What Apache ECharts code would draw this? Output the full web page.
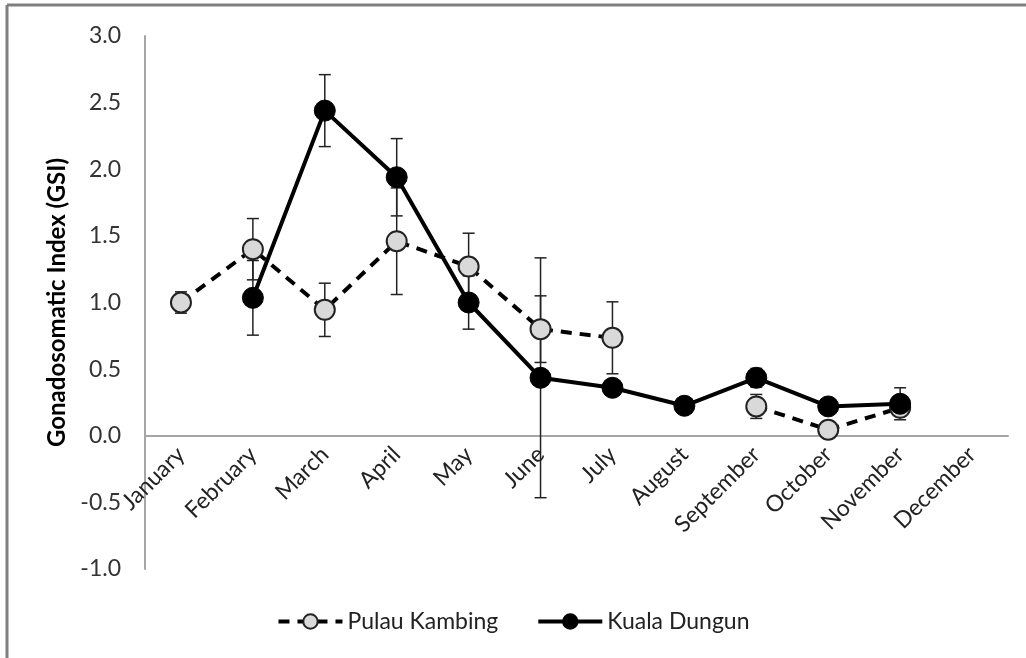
<!DOCTYPE html>
<html>
<head>
<meta charset="utf-8">
<script src="https://cdn.jsdelivr.net/npm/echarts@6/dist/echarts.min.js"></script>
<style>
html,body{margin:0;padding:0;background:#fff;}
#chart{width:1026px;height:658px;}
</style>
</head>
<body>
<div id="chart"></div>
<script>
const months = ['January','February','March','April','May','June','July','August','September','October','November','December'];
const pulauKambing = [1.00, 1.40, 0.945, 1.46, 1.27, 0.80, 0.735, null, 0.22, 0.045, 0.21, null];
const pulauKambingErr = [0.08, 0.23, 0.20, 0.40, 0.25, 0.25, 0.27, null, 0.09, null, null, null];
const kualaDungun = [null, 1.035, 2.44, 1.94, 1.00, 0.435, 0.36, 0.225, 0.435, 0.22, 0.24, null];
const kualaDungunErr = [null, 0.28, 0.27, 0.29, 0.20, 0.90, null, null, 0.07, null, 0.12, null];
const yTicks = {min: -1, max: 3, step: 0.5};

function errData(vals, errs) {
  const out = [];
  vals.forEach((v, i) => {
    if (v != null && errs[i] != null) out.push([i, v - errs[i], v + errs[i]]);
  });
  return out;
}
function errRender(params, api) {
  const x = api.value(0);
  const lo = api.coord([x, api.value(1)]);
  const hi = api.coord([x, api.value(2)]);
  const w = 6;
  const st = {stroke: '#222', lineWidth: 1.5};
  return {type: 'group', children: [
    {type: 'line', shape: {x1: lo[0], y1: lo[1], x2: hi[0], y2: hi[1]}, style: st},
    {type: 'line', shape: {x1: lo[0]-w, y1: lo[1], x2: lo[0]+w, y2: lo[1]}, style: st},
    {type: 'line', shape: {x1: hi[0]-w, y1: hi[1], x2: hi[0]+w, y2: hi[1]}, style: st}
  ]};
}

const GRID_TOP = 36, GRID_BOTTOM = 89, H = 658;
const gridH = H - GRID_TOP - GRID_BOTTOM;
const zeroOffset = gridH * (0 - yTicks.min) / (yTicks.max - yTicks.min);

const chart = echarts.init(document.getElementById('chart'));
const FONT = 'Lato';
chart.setOption({
  backgroundColor: '#ffffff',
  animation: false,
  textStyle: {fontFamily: FONT},
  grid: {left: 145, right: 18, top: GRID_TOP, bottom: GRID_BOTTOM, containLabel: false},
  legend: {
    bottom: 20, left: 'center',
    itemWidth: 64, itemHeight: 18, itemGap: 38,
    textStyle: {fontFamily: FONT, fontSize: 23, color: '#222'},
    lineStyle: {width: 4},
    data: ['Pulau Kambing', 'Kuala Dungun']
  },
  xAxis: {
    type: 'category', data: months, boundaryGap: true,
    offset: -zeroOffset,
    axisLine: {onZero: false, lineStyle: {color: '#a6a6a6', width: 2}},
    axisTick: {show: false},
    axisLabel: {rotate: 45, margin: 15, fontSize: 23, color: '#222', fontFamily: FONT, interval: 0}
  },
  yAxis: {
    type: 'value', min: yTicks.min, max: yTicks.max, interval: yTicks.step,
    name: 'Gonadosomatic Index (GSI)', nameLocation: 'middle', nameGap: 74,
    nameTextStyle: {fontFamily: FONT, fontSize: 24, fontWeight: 'bold', color: '#000'},
    axisLine: {show: true, lineStyle: {color: '#a6a6a6', width: 2}},
    axisTick: {show: false},
    splitLine: {show: false},
    axisLabel: {margin: 24, fontSize: 23, color: '#333', fontFamily: FONT, formatter: v => v.toFixed(1)}
  },
  graphic: [
    {type: 'line', shape: {x1: 7, y1: 5, x2: 1026, y2: 5}, style: {stroke: '#808080', lineWidth: 3}},
    {type: 'line', shape: {x1: 7, y1: 5, x2: 7, y2: 658}, style: {stroke: '#808080', lineWidth: 3}}
  ],
  series: [
    {type: 'custom', name: 'errPK', renderItem: errRender, data: errData(pulauKambing, pulauKambingErr), z: 1, silent: true, encode: {x: 0, y: [1, 2]}},
    {type: 'custom', name: 'errKD', renderItem: errRender, data: errData(kualaDungun, kualaDungunErr), z: 1, silent: true, encode: {x: 0, y: [1, 2]}},
    {
      name: 'Pulau Kambing', type: 'line', data: pulauKambing, connectNulls: false, z: 3,
      symbol: 'circle', symbolSize: 20,
      lineStyle: {color: '#000', width: 4, type: [11, 8]},
      itemStyle: {color: '#d9d9d9', borderColor: '#222', borderWidth: 2}
    },
    {
      name: 'Kuala Dungun', type: 'line', data: kualaDungun, connectNulls: false, z: 4,
      symbol: 'circle', symbolSize: 21,
      lineStyle: {color: '#000', width: 4},
      itemStyle: {color: '#000', borderColor: '#000', borderWidth: 1}
    }
  ]
});
</script>
</body>
</html>
